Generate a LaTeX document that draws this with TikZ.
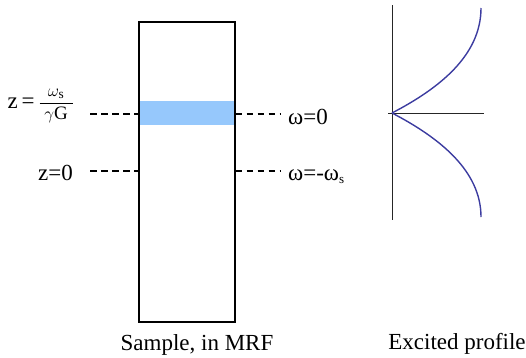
\documentclass[tikz,border=0pt]{standalone}
\usepackage{fontspec}
\setmainfont{Liberation Serif}
\begin{document}
\begin{tikzpicture}[x=1pt,y=-1pt,
  lbl/.style={inner sep=0pt,font=\fontsize{23}{25}\selectfont},
  dashline/.style={line width=1.1pt,dash pattern=on 6.5pt off 4.5pt},
  axis/.style={line width=0.9pt,black!85},
  prof/.style={line width=1.4pt,draw={rgb,255:red,60;green,60;blue,160}}]
\useasboundingbox (0,0) rectangle (526,357);
% blue band
\fill[fill={rgb,255:red,150;green,200;blue,252}] (139,101) rectangle (235,125);
% sample box
\node[draw,line width=1.2pt,minimum width=96pt,minimum height=300pt,inner sep=0pt] (box) at (187,172) {};
% dashed lines
\coordinate (l1) at (90,114);
\coordinate (r1) at (280,114);
\coordinate (l2) at (90,171);
\coordinate (r2) at (280,171);
\draw[dashline] (l1) -- (box.west |- l1);
\draw[dashline] (box.east |- r1) -- (r1);
\draw[dashline] (l2) -- (box.west |- l2);
\draw[dashline] (box.east |- r2) -- (r2);
% labels
\node[lbl,anchor=base east] (zs) at (74,108) {z\,=\,{\fontsize{19}{21}\selectfont$\displaystyle\frac{\mkern2mu\omega_{\mathrm{s}}\mkern2mu}{\mkern5mu\gamma\mathrm{G}\mkern5mu}$}};
\node[lbl,anchor=base east] (z0) at (73,180) {z=0};
\node[lbl,anchor=base west] (w0) at (288,124) {ω=0};
\node[lbl,anchor=base west] (ws) at (288,180) {ω=-ω\raisebox{-0.3ex}{\fontsize{13}{13}\selectfont s}};
\node[lbl,anchor=base] (cap1) at (197,350) {Sample, in MRF};
\node[lbl,anchor=base] (cap2) at (457,349) {Excited profile};
% profile
\coordinate (o) at (392,113);
\coordinate (vt) at (392,5);
\coordinate (vb) at (392,220);
\coordinate (hl) at (388,113);
\coordinate (hr) at (484,113);
\coordinate (pt) at (481,8);
\coordinate (pb) at (481,217);
\draw[axis] (vt) -- (vb);
\draw[axis] (hl) -- (hr);
\draw[prof] (o) .. controls (440,88) and (481,55) .. (pt);
\draw[prof] (o) .. controls (440,138) and (481,171) .. (pb);
\end{tikzpicture}
\end{document}
